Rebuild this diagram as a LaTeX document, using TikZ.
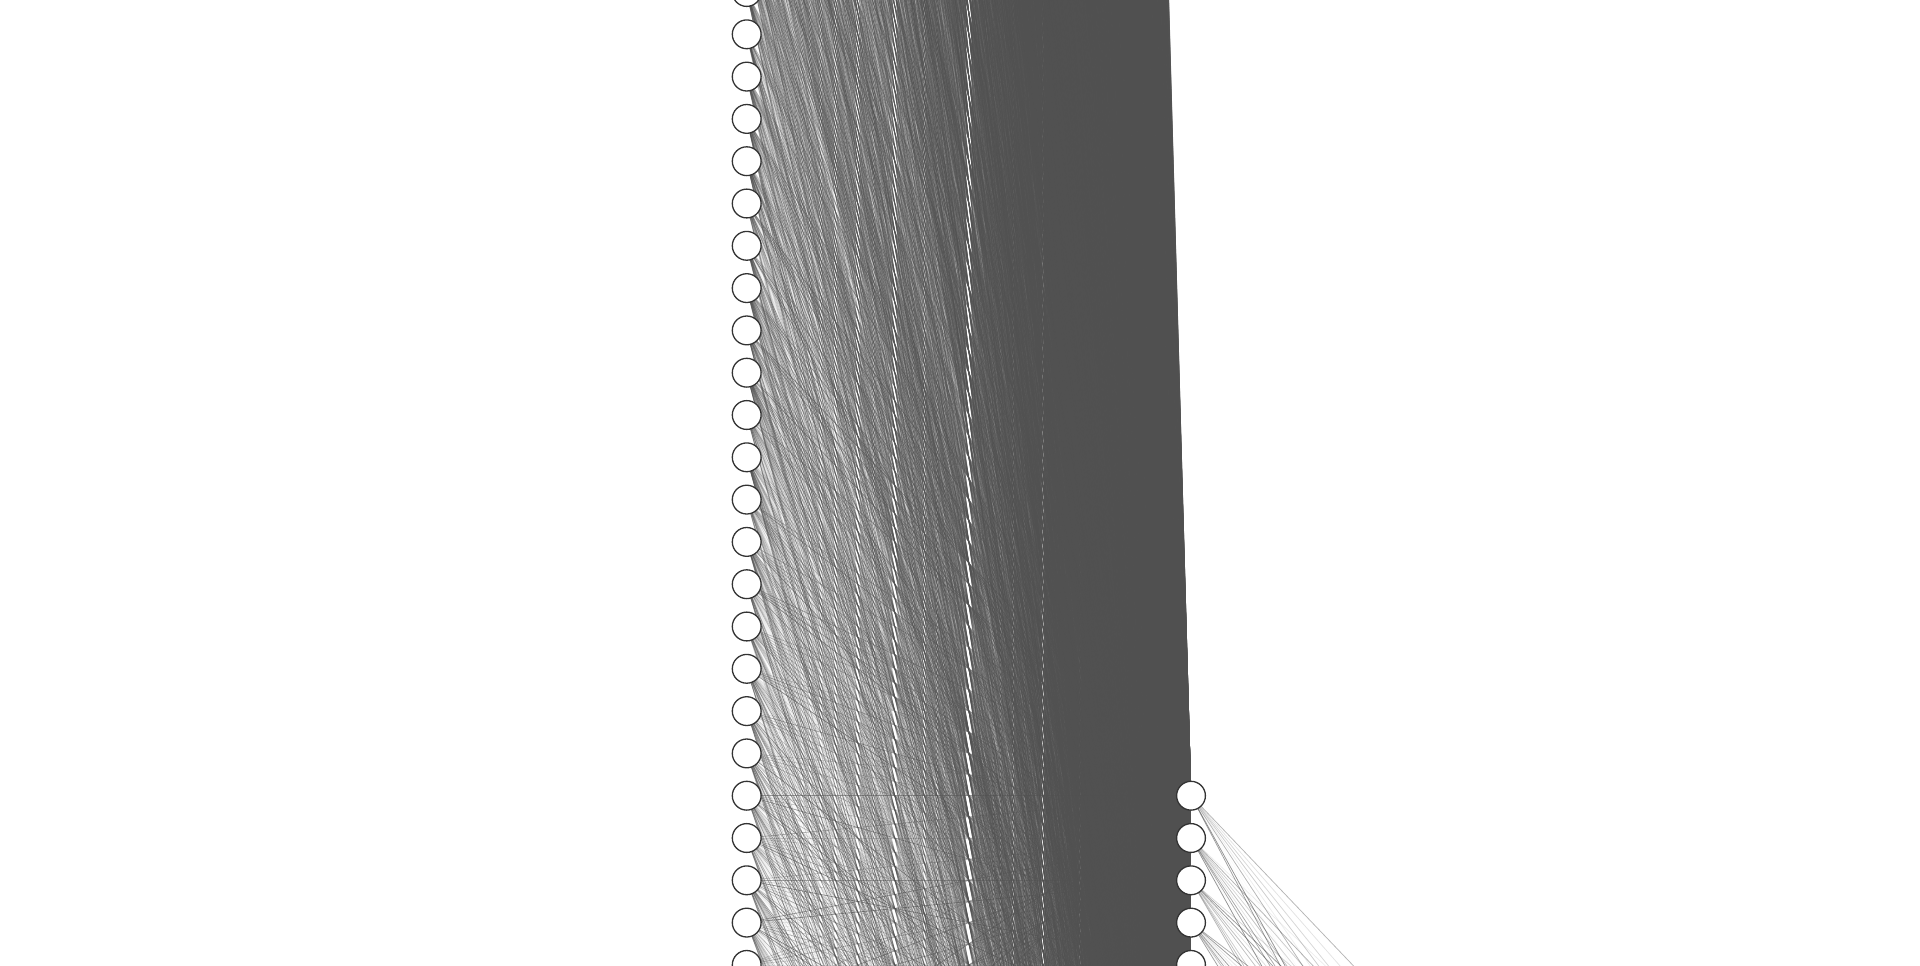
\documentclass[tikz,border=0pt]{standalone}
\definecolor{edgecol}{HTML}{505050}
\definecolor{nodeborder}{HTML}{333333}
\pgfdeclarelayer{edges}
\pgfsetlayers{edges,main}
\expandafter\def\csname op1\endcsname{0.03}
\expandafter\def\csname op2\endcsname{0.10}
\expandafter\def\csname op3\endcsname{0.16}
\expandafter\def\csname op4\endcsname{0.23}
\expandafter\def\csname op5\endcsname{0.29}
\expandafter\def\csname op6\endcsname{0.36}
\expandafter\def\csname op7\endcsname{0.42}
\expandafter\def\csname op8\endcsname{0.49}
\expandafter\def\csname op9\endcsname{0.55}
\expandafter\def\csname op10\endcsname{0.62}
\begin{document}
\begin{tikzpicture}[
  neuron/.style={circle,draw=nodeborder,fill=white,line width=0.65pt,minimum size=14.4pt,inner sep=0pt},
  link/.style={draw=edgecol,line width=0.375pt}]
\useasboundingbox (0pt,0pt) rectangle (960pt,-482.5pt);
\pgfmathsetseed{7}
% input layer (784)
\foreach \i in {0,...,783}{
  \pgfmathsetmacro\yy{-(397.85+(\i-376)*21.15)}
  \node[neuron] (in\i) at (373.35pt,\yy pt) {};
}
% hidden layer (32)
\foreach \j in {0,...,31}{
  \pgfmathsetmacro\yy{-(397.85+\j*21.15)}
  \node[neuron] (hid\j) at (595.5pt,\yy pt) {};
}
% output layer (10)
\foreach \k in {0,...,9}{
  \pgfmathsetmacro\yy{-(397.85+(11+\k)*21.15)}
  \node[neuron] (out\k) at (817.65pt,\yy pt) {};
}
\begin{pgfonlayer}{edges}
\pgfsetstrokecolor{edgecol}
\pgfsetlinewidth{0.375pt}
\foreach \i in {0,...,783}{
  \ifnum\i<381 \def\jmax{31}\else\def\jmax{4}\fi
  \foreach \j in {0,...,\jmax}{
    \pgfmathrandominteger{\lv}{1}{10}
    \pgfsetstrokeopacity{\csname op\lv\endcsname}
    \pgfpathmoveto{\pgfpointanchor{in\i}{center}}
    \pgfpathlineto{\pgfpointanchor{hid\j}{center}}
    \pgfusepath{stroke}
  }
}
\foreach \j in {0,...,4}{
  \foreach \k in {0,...,9}{
    \pgfmathrandominteger{\lv}{1}{10}
    \draw[link,draw opacity=\csname op\lv\endcsname] (hid\j.center) -- (out\k.center);
  }
}
\end{pgfonlayer}
\end{tikzpicture}
\end{document}
